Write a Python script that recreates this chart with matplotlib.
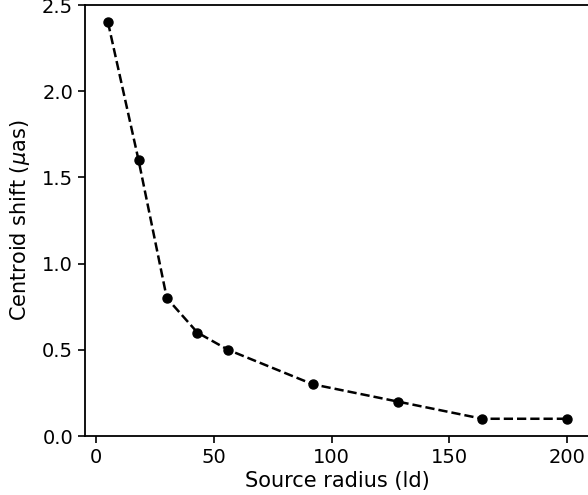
import numpy as np
import matplotlib
matplotlib.use('Agg')
import matplotlib.pyplot as plt

radius = [5, 18, 30, 43, 56, 92, 128, 164, 200]
shift = [2.4, 1.6, 0.8, 0.6, 0.5, 0.3, 0.2, 0.1, 0.1]

fig = plt.figure(figsize=(5.88, 4.95), dpi=100)
ax = fig.add_axes([85 / 588, 59 / 495, 505 / 588, 431 / 495])
ax.plot(radius, shift, 'k--o', markersize=6.5, linewidth=1.8)
ax.set_xlim(-4.75, 209.75)
ax.set_ylim(0, 2.5)
ax.set_xticks([0, 50, 100, 150, 200])
ax.set_yticks([0.0, 0.5, 1.0, 1.5, 2.0, 2.5])
ax.tick_params(labelsize=14, width=1.2, length=5)
for s in ax.spines.values():
    s.set_linewidth(1.3)
ax.set_xlabel('Source radius (ld)', fontsize=15, labelpad=3)
ax.set_ylabel(r'Centroid shift ($\mu$as)', fontsize=15, labelpad=7)
plt.savefig('out.png', dpi=100)
